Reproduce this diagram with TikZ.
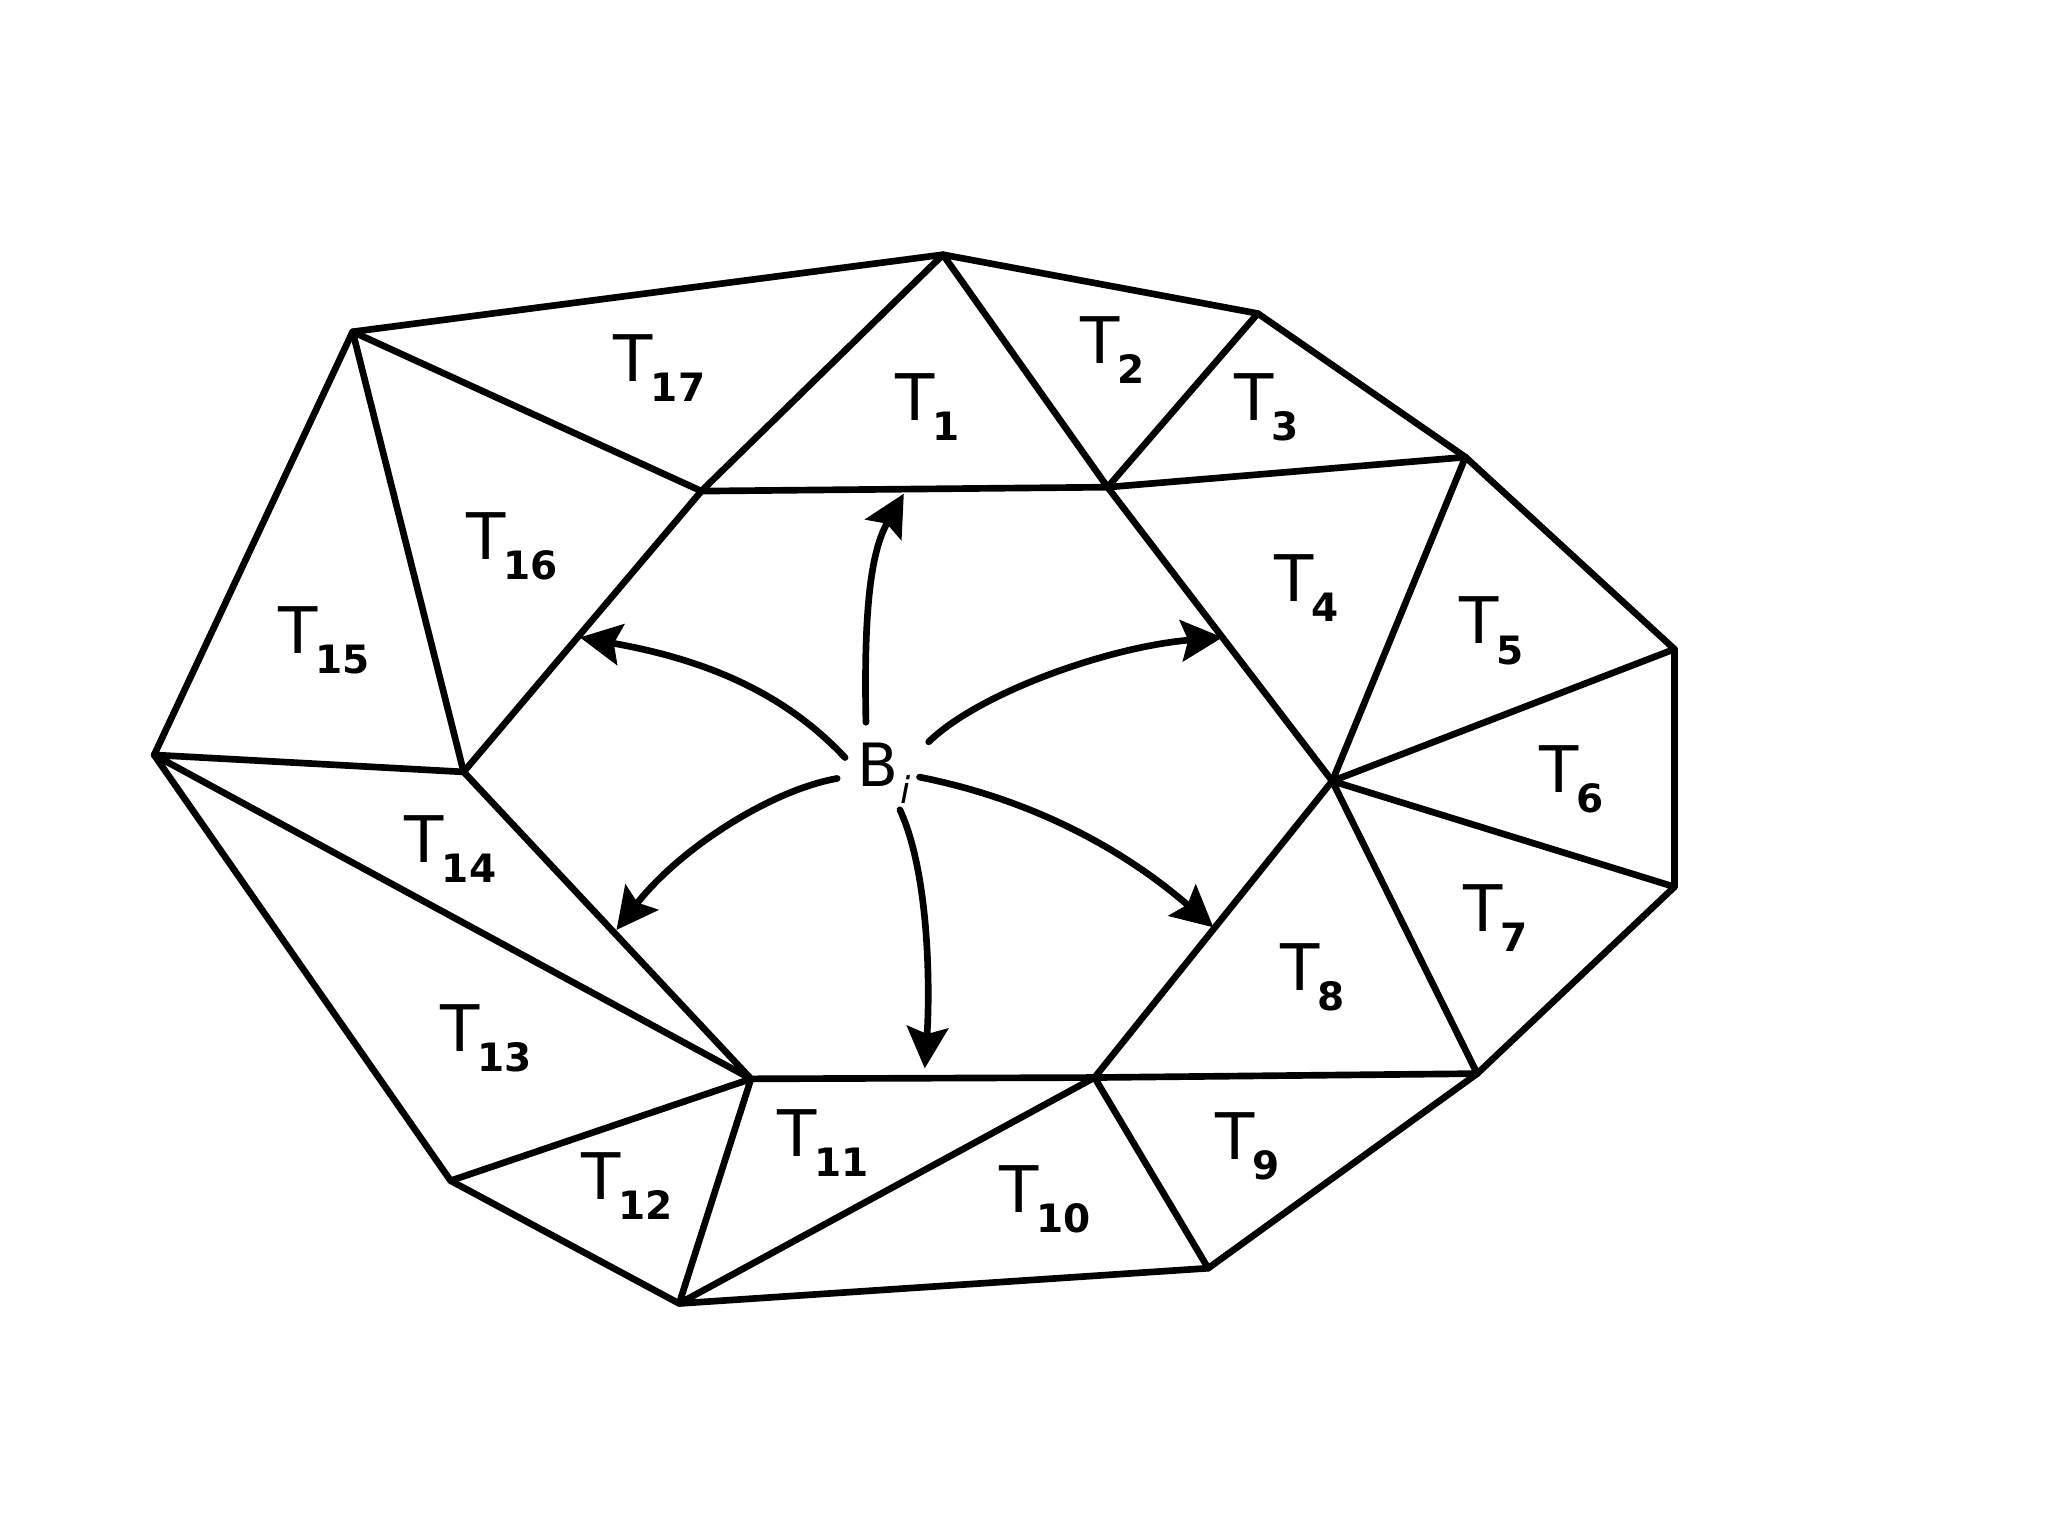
\documentclass[tikz,border=0pt]{standalone}
\usepackage{fontspec}
\setmainfont{DejaVu Sans}
\usetikzlibrary{arrows.meta}
\newcommand{\tlab}[1]{{\fontsize{14}{14}\selectfont T}\kern-0.5pt\raisebox{-0.8ex}{\fontsize{8.5}{8.5}\selectfont\bfseries #1}}
\begin{document}
\begin{tikzpicture}[x=0.01cm,y=-0.01cm,
  edge/.style={line width=1.45pt,line join=round,line cap=round},
  arr/.style={line width=1.45pt,line cap=round,-{Stealth[length=9pt,width=9pt,inset=1.5pt]}},
  lab/.style={inner sep=0pt}]
\useasboundingbox (0,0) rectangle (1568,1176);
% outer vertices
\coordinate (A) at (722,195);
\coordinate (B) at (963,240);
\coordinate (C) at (1122,350);
\coordinate (D) at (1282,497);
\coordinate (E) at (1282,679);
\coordinate (F) at (1131,822);
\coordinate (G) at (925,971);
\coordinate (H) at (520,998);
\coordinate (I) at (345,904);
\coordinate (J) at (118,578);
\coordinate (K) at (270,254);
% inner hexagon
\coordinate (P1) at (537,376);
\coordinate (P2) at (848,373);
\coordinate (P3) at (1020,598);
\coordinate (P4) at (838,825);
\coordinate (P5) at (575,826);
\coordinate (P6) at (355,591);
% outer boundary
\draw[edge] (A)--(B)--(C)--(D)--(E)--(F)--(G)--(H)--(I)--(J)--(K)--cycle;
% hexagon
\draw[edge] (P1)--(P2)--(P3)--(P4)--(P5)--(P6)--cycle;
% spokes
\draw[edge] (K)--(P1) (A)--(P1) (A)--(P2) (B)--(P2) (C)--(P2)
  (C)--(P3) (D)--(P3) (E)--(P3) (F)--(P3) (F)--(P4) (G)--(P4) (H)--(P4)
  (H)--(P5) (I)--(P5) (J)--(P5) (J)--(P6) (K)--(P6);
% labels
\node[lab] (t17) at (505,282) {\tlab{17}};
\node[lab] (t1) at (710,312) {\tlab{1}};
\node[lab] (t2) at (852,268) {\tlab{2}};
\node[lab] (t3) at (970,312) {\tlab{3}};
\node[lab] (t4) at (1000,450) {\tlab{4}};
\node[lab] (t5) at (1142,483) {\tlab{5}};
\node[lab] (t6) at (1203,597) {\tlab{6}};
\node[lab] (t7) at (1145,703) {\tlab{7}};
\node[lab] (t8) at (1005,748) {\tlab{8}};
\node[lab] (t9) at (955,878) {\tlab{9}};
\node[lab] (t10) at (800,918) {\tlab{10}};
\node[lab] (t11) at (630,875) {\tlab{11}};
\node[lab] (t12) at (480,908) {\tlab{12}};
\node[lab] (t13) at (372,795) {\tlab{13}};
\node[lab] (t14) at (345,650) {\tlab{14}};
\node[lab] (t15) at (248,490) {\tlab{15}};
\node[lab] (t16) at (392,418) {\tlab{16}};
\node[lab] (bi) at (677,592) {{\fontsize{13}{13}\selectfont B}\kern0.3pt\raisebox{-0.7ex}{\fontsize{8}{8}\selectfont\itshape i}};
% arrow start/end points
\coordinate (s1) at (663,553); \coordinate (e1) at (692,378);
\coordinate (s2) at (711,568); \coordinate (e2) at (936,488);
\coordinate (s3) at (647,580); \coordinate (e3) at (444,488);
\coordinate (s4) at (641,596); \coordinate (e4) at (472,712);
\coordinate (s5) at (689,620); \coordinate (e5) at (708,818);
\coordinate (s6) at (704,595); \coordinate (e6) at (929,710);
\draw[arr] (s1) .. controls (661,460) and (668,420) .. (e1);
\draw[arr] (s2) .. controls (750,530) and (850,495) .. (e2);
\draw[arr] (s3) .. controls (600,530) and (540,505) .. (e3);
\draw[arr] (s4) .. controls (590,605) and (520,650) .. (e4);
\draw[arr] (s5) .. controls (712,670) and (712,760) .. (e5);
\draw[arr] (s6) .. controls (790,612) and (860,650) .. (e6);
\end{tikzpicture}
\end{document}
